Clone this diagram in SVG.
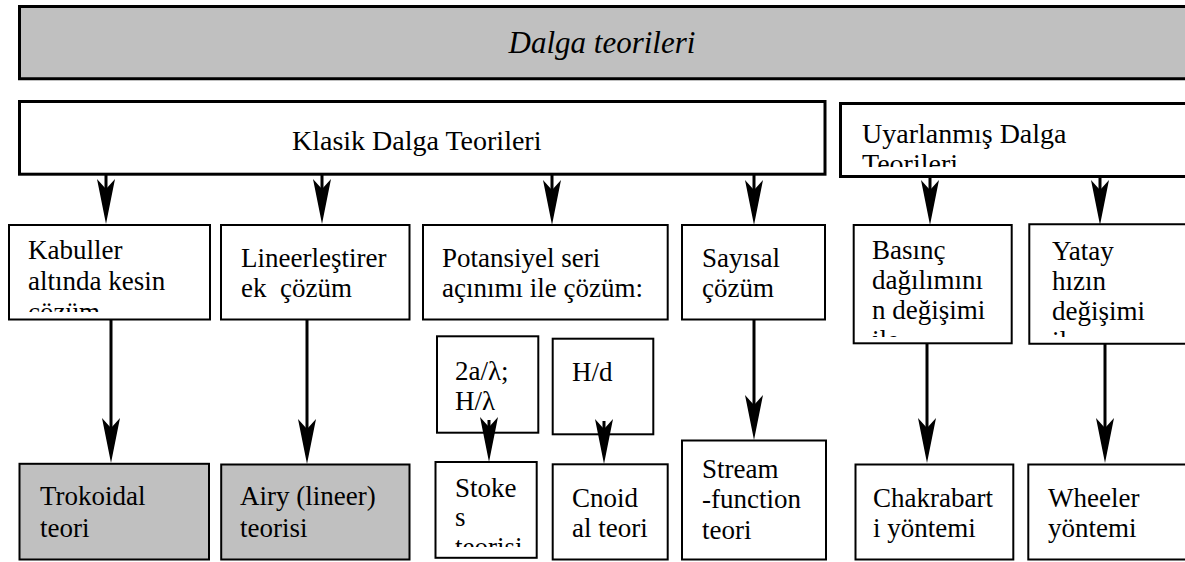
<svg xmlns="http://www.w3.org/2000/svg" width="1185" height="562" viewBox="0 0 1185 562">
<defs>
<clipPath id="c1"><rect x="9" y="225" width="201" height="87"/></clipPath>
<clipPath id="c2"><rect x="840" y="103" width="345" height="64"/></clipPath>
<clipPath id="c3"><rect x="854" y="225" width="158" height="112"/></clipPath>
<clipPath id="c4"><rect x="1029" y="225" width="156" height="112"/></clipPath>
<clipPath id="c5"><rect x="436" y="462" width="101" height="85"/></clipPath>
</defs>

<g id="banner">
<rect x="19.5" y="6.5" width="1165.5" height="72.3" fill="#c0c0c0"/>
<path d="M1185,6.5 H19.5 V78.8 H1185" fill="none" stroke="#000" stroke-width="3"/>
<text font-family="Liberation Serif" x="602" y="53" text-anchor="middle" font-style="italic" font-size="31">Dalga teorileri</text>
</g>

<g id="klasik">
<rect x="19.5" y="101.5" width="805.5" height="72.7" fill="#fff" stroke="#000" stroke-width="3"/>
<text font-family="Liberation Serif" font-size="28" x="292" y="150">Klasik Dalga Teorileri</text>
</g>
<g id="uyarlanmis">
<rect x="840.5" y="103.5" width="344.5" height="73" fill="#fff"/>
<path d="M1185,103.5 H840.5 V176.5 H1185" fill="none" stroke="#000" stroke-width="3"/>
<text font-family="Liberation Serif" font-size="28" x="862" y="143" clip-path="url(#c2)">Uyarlanmış Dalga<tspan x="862" y="173">Teorileri</tspan></text>
</g>

<g id="kabuller">
<rect x="9" y="225" width="201" height="94.5" fill="#fff" stroke="#000" stroke-width="2"/>
<text font-family="Liberation Serif" font-size="27" x="28" y="259" clip-path="url(#c1)">Kabuller<tspan x="28" y="290">altında kesin</tspan><tspan x="28" y="321">çözüm</tspan></text>
</g>
<g id="lineer">
<rect x="221" y="225" width="188.5" height="94.5" fill="#fff" stroke="#000" stroke-width="2"/>
<text font-family="Liberation Serif" font-size="27" x="241" y="267">Lineerleştirer<tspan x="241" y="297">ek&#160; çözüm</tspan></text>
</g>
<g id="potansiyel">
<rect x="423" y="225" width="244.7" height="94.5" fill="#fff" stroke="#000" stroke-width="2"/>
<text font-family="Liberation Serif" font-size="27" x="442" y="267">Potansiyel seri<tspan x="442" y="297">açınımı ile çözüm:</tspan></text>
</g>
<g id="sayisal">
<rect x="682" y="225" width="143" height="94.5" fill="#fff" stroke="#000" stroke-width="2"/>
<text font-family="Liberation Serif" font-size="27" x="702" y="267">Sayısal<tspan x="702" y="297">çözüm</tspan></text>
</g>
<g id="basinc">
<rect x="853.7" y="225" width="158" height="118.3" fill="#fff" stroke="#000" stroke-width="2"/>
<text font-family="Liberation Serif" font-size="27" x="872" y="259" clip-path="url(#c3)">Basınç<tspan x="872" y="289">dağılımını</tspan><tspan x="872" y="319">n değişimi</tspan><tspan x="872" y="349">ile</tspan></text>
</g>
<g id="yatay">
<rect x="1029.3" y="224.3" width="155.7" height="119.4" fill="#fff"/>
<path d="M1185,224.3 H1029.3 V343.7 H1185" fill="none" stroke="#000" stroke-width="2"/>
<text font-family="Liberation Serif" font-size="27" x="1052" y="260" clip-path="url(#c4)">Yatay<tspan x="1052" y="290">hızın</tspan><tspan x="1052" y="320">değişimi</tspan><tspan x="1052" y="350">ile</tspan></text>
</g>

<g id="stokes-param">
<rect x="437" y="336.3" width="101.3" height="96.4" fill="#fff" stroke="#000" stroke-width="2"/>
<text font-family="Liberation Serif" font-size="27" x="455" y="380">2a/λ;<tspan x="455" y="410">H/λ</tspan></text>
</g>
<g id="cnoidal-param">
<rect x="552.7" y="338.7" width="100.6" height="95.6" fill="#fff" stroke="#000" stroke-width="2"/>
<text font-family="Liberation Serif" font-size="27" x="572" y="381">H/d</text>
</g>

<g id="trokoidal">
<rect x="19.5" y="463.8" width="189.5" height="95.7" fill="#c0c0c0" stroke="#000" stroke-width="2"/>
<text font-family="Liberation Serif" font-size="27" x="40" y="505">Trokoidal<tspan x="40" y="537">teori</tspan></text>
</g>
<g id="airy">
<rect x="221.2" y="464.5" width="188.3" height="95" fill="#c0c0c0" stroke="#000" stroke-width="2"/>
<text font-family="Liberation Serif" font-size="27" x="240" y="505">Airy (lineer)<tspan x="240" y="537">teorisi</tspan></text>
</g>
<g id="stokes">
<rect x="435.5" y="462" width="101.2" height="95.8" fill="#fff" stroke="#000" stroke-width="2"/>
<text font-family="Liberation Serif" font-size="27" x="455" y="497" clip-path="url(#c5)">Stoke<tspan x="455" y="526">s</tspan><tspan x="455" y="556">teorisi</tspan></text>
</g>
<g id="cnoidal">
<rect x="552.7" y="464.3" width="115" height="95.2" fill="#fff" stroke="#000" stroke-width="2"/>
<text font-family="Liberation Serif" font-size="27" x="572" y="507">Cnoid<tspan x="572" y="537">al teori</tspan></text>
</g>
<g id="stream">
<rect x="682" y="440.5" width="144" height="119" fill="#fff" stroke="#000" stroke-width="2"/>
<text font-family="Liberation Serif" font-size="27" x="702" y="478">Stream<tspan x="702" y="508">-function</tspan><tspan x="702" y="539">teori</tspan></text>
</g>
<g id="chakrabarti">
<rect x="855.5" y="464.5" width="157.8" height="95" fill="#fff" stroke="#000" stroke-width="2"/>
<text font-family="Liberation Serif" font-size="27" x="873" y="507">Chakrabart<tspan x="873" y="537">i yöntemi</tspan></text>
</g>
<g id="wheeler">
<rect x="1028.3" y="464.5" width="156.7" height="95" fill="#fff"/>
<path d="M1185,464.5 H1028.3 V559.5 H1185" fill="none" stroke="#000" stroke-width="2"/>
<text font-family="Liberation Serif" font-size="27" x="1048" y="507">Wheeler<tspan x="1048" y="537">yöntemi</tspan></text>
</g>

<g id="connectors" stroke="#000" stroke-width="3">
<path d="M106,175 V190 M322,175 V190 M552,175 V191 M754,175 V191 M930,177 V191 M1100,177 V191 M111,320 V429 M307,320 V430 M489,420 V428 M604,421 V430 M754,320 V406 M927,344 V429 M1105,344 V429" fill="none"/>
<path stroke="none" fill="#000" d="M106,224 L97,179 L106,189 L115,179 Z M322,224 L313,179 L322,189 L331,179 Z M552,225 L543,180 L552,190 L561,180 Z M754,225 L745,180 L754,190 L763,180 Z M930,225 L921,180 L930,190 L939,180 Z M1100,225 L1091,180 L1100,190 L1109,180 Z M111,463 L102,418 L111,428 L120,418 Z M307,464 L298,419 L307,429 L316,419 Z M489,462 L480,417 L489,427 L498,417 Z M604,464 L595,419 L604,429 L613,419 Z M754,440 L745,395 L754,405 L763,395 Z M927,463 L918,418 L927,428 L936,418 Z M1105,463 L1096,418 L1105,428 L1114,418 Z"/>
</g>
</svg>
